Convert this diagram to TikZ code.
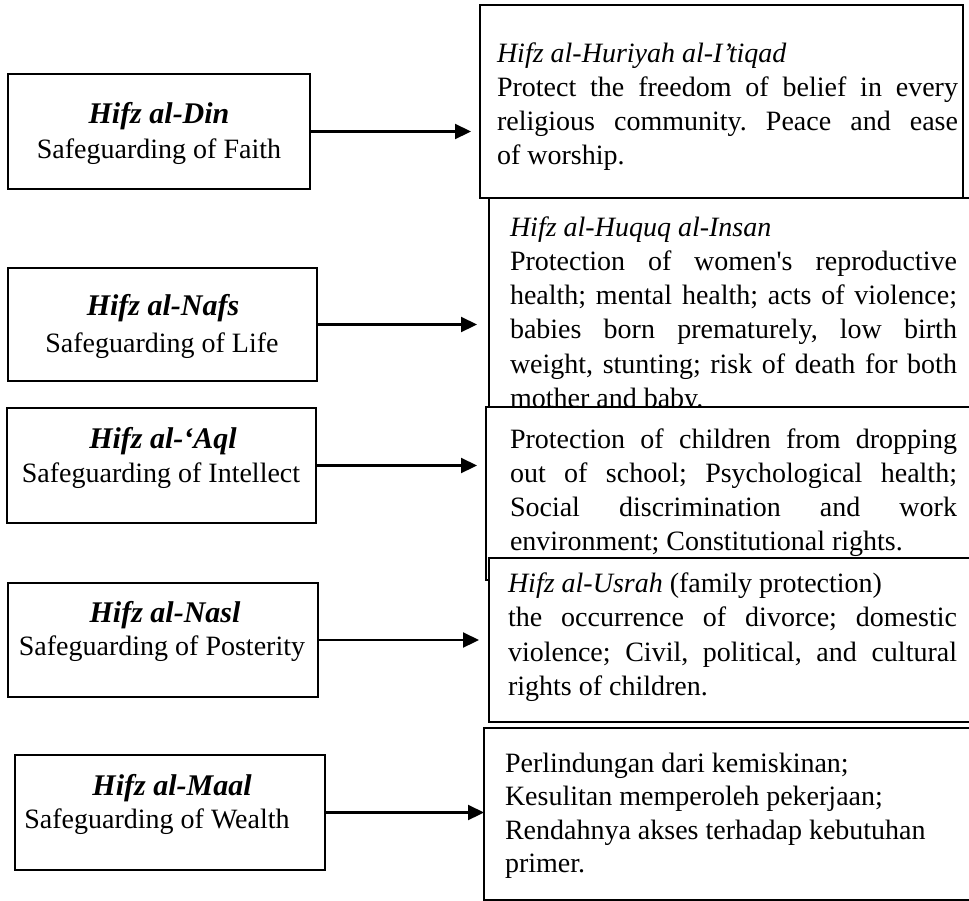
\documentclass[tikz,border=0pt]{standalone}
\usepackage{fontspec}
\setmainfont{Liberation Serif}
\usetikzlibrary{arrows.meta}
\frenchspacing
\begin{document}
\begin{tikzpicture}[x=1pt,y=-1pt,
  every node/.style={font=\fontsize{28}{34.5}\selectfont, outer sep=0pt},
  lbox/.style={draw, line width=2pt, inner sep=0pt},
  rbox/.style={draw, line width=2pt, fill=white, inner sep=0pt},
  ctext/.style={anchor=base, inner sep=0pt},
  ltext/.style={anchor=base west, inner sep=0pt},
  arr/.style={line width=2.2pt, -{Triangle[length=16pt,width=15pt]}},
  head/.style={font=\fontsize{30}{34.5}\selectfont\bfseries\itshape}
]
\useasboundingbox (0,0) rectangle (969,900);
\clip (0,0) rectangle (969,900);

% ---------- left column ----------
\node[lbox, minimum width=302pt, minimum height=115pt] (din) at (159,131.5) {};
\node[ctext, head] (dinA) at (159,123) {Hifz al-Din};
\node[ctext] (dinB) at (159,158) {Safeguarding of Faith};

\node[lbox, minimum width=309pt, minimum height=113pt] (nafs) at (162.5,324.5) {};
\node[ctext, head] (nafsA) at (163,315) {Hifz al-Nafs};
\node[ctext] (nafsB) at (162,352) {Safeguarding of Life};

\node[lbox, minimum width=309pt, minimum height=115pt] (aql) at (161.5,465.5) {};
\node[ctext, head] (aqlA) at (163,448) {Hifz al-‘Aql};
\node[ctext] (aqlB) at (161,482) {Safeguarding of Intellect};

\node[lbox, minimum width=310pt, minimum height=114pt] (nasl) at (163,640) {};
\node[ctext, head] (naslA) at (165,622) {Hifz al-Nasl};
\node[ctext] (naslB) at (162,655) {Safeguarding of Posterity};

\node[lbox, minimum width=310pt, minimum height=115pt] (maal) at (170,812.5) {};
\node[ctext, head] (maalA) at (172,795) {Hifz al-Maal};
\node[ctext] (maalB) at (157,828) {Safeguarding of Wealth};

% ---------- right column ----------
% box 2
\node[rbox, minimum width=511pt, minimum height=222pt] (r2) at (744.5,309) {};
\node[ltext] (r2a) at (510,236) {\itshape Hifz al-Huquq al-Insan};
\node[ltext] (r2b) at (510,270) {\makebox[447pt][s]{Protection of women\textquotesingle s reproductive}};
\node[ltext] (r2c) at (510,304.5) {\makebox[447pt][s]{health; mental health; acts of violence;}};
\node[ltext] (r2d) at (510,338.5) {\makebox[447pt][s]{babies born prematurely, low birth}};
\node[ltext] (r2e) at (510,373) {\makebox[447pt][s]{weight, stunting; risk of death for both}};
\node[ltext] (r2f) at (510,407) {mother and baby.};

% box 1
\node[rbox, minimum width=483pt, minimum height=193pt] (r1) at (721.5,101.5) {};
\node[ltext] (r1a) at (497,62) {\itshape Hifz al-Huriyah al-I’tiqad};
\node[ltext] (r1b) at (497,96) {\makebox[461pt][s]{Protect the freedom of belief in every}};
\node[ltext] (r1c) at (497,130) {\makebox[461pt][s]{religious community. Peace and ease}};
\node[ltext] (r1d) at (497,164) {of worship.};

% box 3
\node[rbox, minimum width=514pt, minimum height=173pt] (r3) at (743,493.5) {};
\node[ltext] (r3a) at (510,448) {\makebox[447pt][s]{Protection of children from dropping}};
\node[ltext] (r3b) at (510,482) {\makebox[447pt][s]{out of school; Psychological health;}};
\node[ltext] (r3c) at (510,516) {\makebox[447pt][s]{Social discrimination and work}};
\node[ltext] (r3d) at (510,550) {environment; Constitutional rights.};

% box 4
\node[rbox, minimum width=511pt, minimum height=164pt] (r4) at (744.5,640) {};
\node[ltext] (r4a) at (508,592) {\textit{Hifz al-Usrah} (family protection)};
\node[ltext] (r4b) at (508,626.5) {\makebox[449pt][s]{the occurrence of divorce; domestic}};
\node[ltext] (r4c) at (508,661) {\makebox[449pt][s]{violence; Civil, political, and cultural}};
\node[ltext] (r4d) at (508,695.5) {rights of children.};

% box 5
\node[rbox, minimum width=516pt, minimum height=171.5pt] (r5) at (742,813.75) {};
\node[ltext] (r5a) at (505,772) {Perlindungan dari kemiskinan;};
\node[ltext] (r5b) at (505,805.5) {Kesulitan memperoleh pekerjaan;};
\node[ltext] (r5c) at (505,839) {Rendahnya akses terhadap kebutuhan};
\node[ltext] (r5d) at (505,872.5) {primer.};

% ---------- connectors ----------
\draw[arr, shorten >=9pt] (din.east) -- (din.east -| r1.west);
\draw[arr, shorten >=12pt] (nafs.east) -- (nafs.east -| r2.west);
\draw[arr, shorten >=9pt] (aql.east) -- (aql.east -| r3.west);
\draw[arr, shorten >=10pt] (nasl.east) -- (nasl.east -| r4.west);
\draw[arr] (maal.east) -- (maal.east -| r5.west);
\end{tikzpicture}
\end{document}
